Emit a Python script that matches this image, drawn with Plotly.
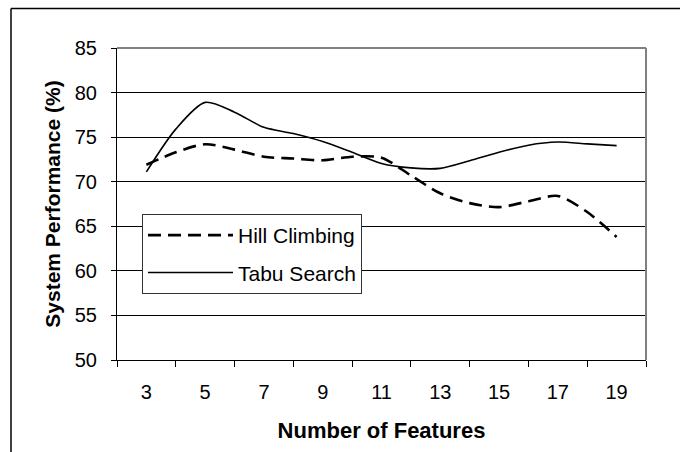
import plotly.graph_objects as go

features = [3, 4, 5, 6, 7, 8, 9, 10, 11, 12, 13, 14, 15, 16, 17, 18, 19]
hill_climbing = [71.9, 73.3, 74.2, 73.6, 72.8, 72.6, 72.4, 72.8, 72.7, 70.7, 68.7, 67.6, 67.15, 67.8, 68.4, 66.6, 63.8]
tabu_search = [71.1, 75.9, 78.9, 77.8, 76.1, 75.4, 74.5, 73.3, 72.05, 71.55, 71.5, 72.35, 73.3, 74.1, 74.45, 74.25, 74.05]

x_labels = [3, 5, 7, 9, 11, 13, 15, 17, 19]
x_minor = [2, 4, 6, 8, 10, 12, 14, 16, 18, 20]
y_ticks = [50, 55, 60, 65, 70, 75, 80, 85]

FONT = "Liberation Sans, Arial, sans-serif"

fig = go.Figure()
fig.add_trace(go.Scatter(
    x=features, y=hill_climbing, mode="lines", name="Hill Climbing",
    legendgroup="a",
    line=dict(color="black", width=2.6, dash="13px,7px", shape="spline", smoothing=0.8),
))
fig.add_trace(go.Scatter(
    x=features, y=tabu_search, mode="lines", name="Tabu Search",
    legendgroup="b",
    line=dict(color="black", width=1.6, shape="spline", smoothing=0.8),
))

W, H = 680, 452
L, R, T, B = 117, 646, 48, 360
def px(x):
    return (x - L) / (R - L)
def py(y):
    return (B - y) / (B - T)

shapes = [
    dict(type="line", xref="paper", yref="paper", x0=0, x1=1, y0=1, y1=1,
         line=dict(color="#808080", width=2)),
    dict(type="line", xref="paper", yref="paper", x0=1, x1=1, y0=0, y1=1,
         line=dict(color="#808080", width=2)),
    dict(type="line", xref="paper", yref="paper", x0=px(11), x1=px(681), y0=py(8.5), y1=py(8.5),
         line=dict(color="black", width=1.5)),
    dict(type="line", xref="paper", yref="paper", x0=px(11), x1=px(11), y0=py(8.5), y1=py(460),
         line=dict(color="black", width=1.5)),
]

fig.update_layout(
    width=W, height=H,
    margin=dict(l=L, r=W - R, t=T, b=H - B, pad=0),
    paper_bgcolor="white", plot_bgcolor="white",
    font=dict(family=FONT, color="black", size=20),
    showlegend=True,
    legend=dict(
        x=px(142), y=py(214), xanchor="left", yanchor="top",
        bgcolor="white", bordercolor="#333333", borderwidth=1,
        font=dict(family=FONT, size=21, color="black"),
        itemwidth=85, tracegroupgap=7, traceorder="grouped",
    ),
    shapes=shapes,
    xaxis=dict(
        range=[2, 20], tickmode="array", tickvals=x_labels, ticktext=[str(v) for v in x_labels],
        ticks="outside", ticklen=14, tickcolor="rgba(0,0,0,0)",
        showgrid=False, zeroline=False, showline=True, linecolor="black", linewidth=1,
        minor=dict(tickmode="array", tickvals=x_minor, ticks="outside", ticklen=6,
                   tickcolor="black", tickwidth=1, showgrid=False),
        tickfont=dict(family=FONT, size=20),
        title=dict(text="<b>Number of Features</b>", font=dict(family=FONT, size=22), standoff=20),
    ),
    yaxis=dict(
        range=[50, 85], tickmode="array", tickvals=y_ticks,
        ticks="outside", ticklen=5, tickcolor="black", tickwidth=1,
        ticklabelstandoff=10,
        showgrid=True, gridcolor="black", gridwidth=1,
        zeroline=False, showline=True, linecolor="black", linewidth=1,
        tickfont=dict(family=FONT, size=20),
        title=dict(text="<b>System Performance (%)</b>", font=dict(family=FONT, size=21), standoff=8),
    ),
)

fig.write_html("out.html", config={"displayModeBar": False},
               post_script="document.body.style.margin='0px';")
